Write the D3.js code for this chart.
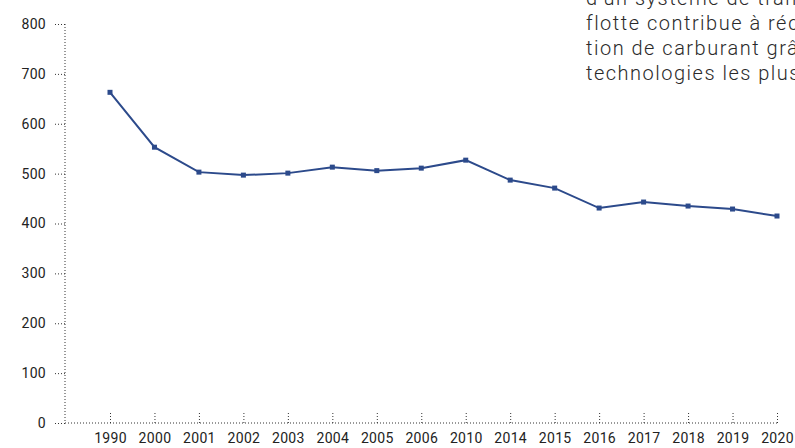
<!DOCTYPE html>
<html><head><meta charset="utf-8">
<script src="https://cdn.jsdelivr.net/npm/d3@7"></script>
<style>body{margin:0;background:#fff;}svg{display:block;}</style>
</head><body>
<svg id="c" width="795" height="448"></svg>
<script>
const categories = ["1990","2000","2001","2002","2003","2004","2005","2006","2010","2014","2015","2016","2017","2018","2019","2020"];
const values = [663,553,503,497,501,513,506,511,527,487,471,431,443,435,429,415];
const yTicks = [0,100,200,300,400,500,600,700,800];
const textLines = ["d'un système de transport efficace. La","flotte contribue à réduire la consomma-","tion de carburant grâce aux avions aux","technologies les plus récentes."];

const svg = d3.select("#c");
const font = "Roboto, 'DejaVu Sans', sans-serif";
const x = d3.scalePoint().domain(categories).range([110, 777]);
const y = d3.scaleLinear().domain([0, 800]).range([423, 24]);
const axisX0 = 65;
const dots = "1,2";
const col = "#2c4a8b";

// y axis
const gy = svg.append("g").attr("transform", `translate(${axisX0},0)`)
  .call(d3.axisLeft(y).tickValues(yTicks).tickSize(11).tickPadding(8));
gy.select(".domain").remove();
gy.selectAll(".tick line").attr("stroke", "#333").attr("stroke-dasharray", dots);
gy.selectAll(".tick text").attr("font-family", font).attr("font-size", 14).attr("letter-spacing", 0.3).attr("fill", "#222");
svg.append("line").attr("x1", axisX0).attr("x2", axisX0).attr("y1", y(800)).attr("y2", y(0))
  .attr("stroke", "#333").attr("stroke-dasharray", dots);

// x axis
const gx = svg.append("g").attr("transform", `translate(0,${y(0)})`)
  .call(d3.axisBottom(x).tickSize(-11).tickPadding(10));
gx.select(".domain").remove();
gx.selectAll(".tick line").attr("stroke", "#333").attr("stroke-dasharray", dots);
gx.selectAll(".tick text").attr("font-family", font).attr("font-size", 14).attr("letter-spacing", 0.3).attr("fill", "#222");
svg.append("line").attr("x1", axisX0).attr("x2", x(categories[categories.length-1])).attr("y1", y(0)).attr("y2", y(0))
  .attr("stroke", "#333").attr("stroke-dasharray", dots);

// line
const data = categories.map((c, i) => ({c, v: values[i]}));
svg.append("path").datum(data)
  .attr("fill", "none").attr("stroke", col).attr("stroke-width", 2)
  .attr("d", d3.line().x(d => x(d.c)).y(d => y(d.v)));
svg.selectAll("rect.m").data(data).join("rect").attr("class", "m")
  .attr("x", d => x(d.c) - 2.5).attr("y", d => y(d.v) - 2.5)
  .attr("width", 5).attr("height", 5).attr("fill", col);

// paragraph text
svg.append("g").selectAll("text").data(textLines).join("text")
  .attr("x", 586).attr("y", (d, i) => 5 + i * 25)
  .attr("font-family", font).attr("font-size", 20).attr("font-weight", 300).attr("letter-spacing", 1.5)
  .attr("fill", "#2a2a2a").text(d => d);
</script>
</body></html>
